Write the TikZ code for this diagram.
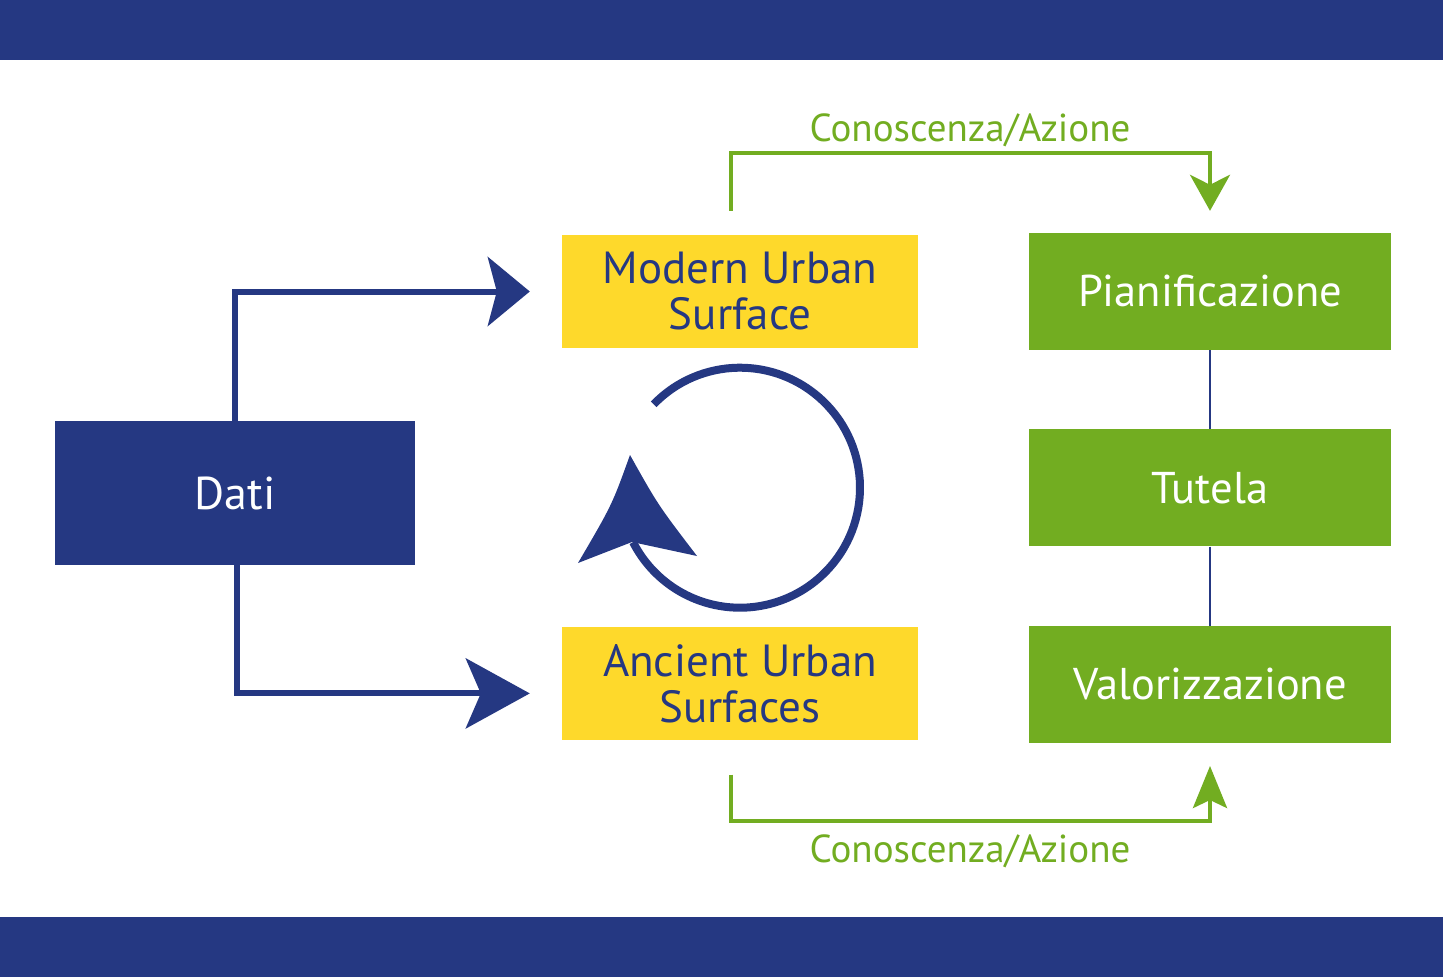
\documentclass[tikz,border=0pt]{standalone}
\usepackage{fontspec}
\setmainfont{PT Sans}
\usepackage{tikz}
\usetikzlibrary{arrows.meta,positioning,calc}
\definecolor{navyband}{HTML}{253882}
\definecolor{sunyellow}{HTML}{FED92B}
\definecolor{leafgreen}{HTML}{72AD21}

\begin{document}
\begin{tikzpicture}[
  x=1pt, y=-1pt,
  >=Stealth,
  navybox/.style={
    fill=navyband,
    inner sep=0pt,
    minimum width=360pt,
    minimum height=144pt,
    text=white,
    font=\fontsize{46}{48}\selectfont
  },
  yellowbox/.style={
    fill=sunyellow,
    inner sep=0pt,
    minimum width=356pt,
    minimum height=113pt,
    align=center,
    text=navyband,
    font=\fontsize{45}{46}\selectfont
  },
  greenbox/.style={
    fill=leafgreen,
    inner sep=0pt,
    minimum width=362pt,
    minimum height=117pt,
    text=white,
    font=\fontsize{44.5}{46}\selectfont
  },
  bluearrow/.style={
    line width=6pt,
    draw=navyband
  },
  greenarrow/.style={
    line width=4pt,
    draw=leafgreen
  },
  linkline/.style={
    line width=2.5pt,
    draw=navyband
  },
  flowlabel/.style={
    text=leafgreen,
    inner sep=0pt,
    font=\fontsize{39}{40}\selectfont
  }
]

  \useasboundingbox (0,0) rectangle (1443,977);
  \fill[white] (0,0) rectangle (1443,977);

  % Top and bottom bands
  \fill[navyband] (0,0) rectangle (1443,60);
  \fill[navyband] (0,917) rectangle (1443,977);

  % --- LEFT: data source ---
  \node[navybox] (dati) at (235,493) {Dati};

  % --- MIDDLE: urban surfaces ---
  \node[yellowbox] (modern) at (740,291.5) {Modern Urban\\Surface};
  \node[yellowbox, below=279pt of modern] (ancient) {Ancient Urban\\Surfaces};

  % --- RIGHT: actions ---
  \node[greenbox] (pian) at (1210,291.5) {Pianificazione};
  \node[greenbox, below=79pt of pian] (tutela) {Tutela};
  \node[greenbox, below=79pt of tutela] (valor) {Valorizzazione};

  % Labels on the green loops
  \coordinate (upbar) at (970,153);
  \coordinate (downbar) at (970,821);
  \node[flowlabel] (lblup) at (970,130) {Conoscenza/Azione};
  \node[flowlabel] (lbldown) at (970,851) {Conoscenza/Azione};

  % Connecting arrows from Dati
  \draw[bluearrow, -{Stealth[length=42pt,width=69pt,inset=9pt]}, shorten >=32pt]
    (dati.north) |- (modern.west);
  \draw[bluearrow, -{Stealth[length=64pt,width=70pt,inset=15pt]}, shorten >=32pt]
    ([xshift=2pt]dati.south) |- ([yshift=-9.5pt]ancient.west);

  % Green knowledge/action loops
  \draw[greenarrow, -{Stealth[length=36pt,width=40pt,inset=10pt]}]
    ([xshift=-9pt,yshift=24pt]modern.north) |- (upbar) -| ([yshift=22pt]pian.north);
  \draw[greenarrow, -{Stealth[length=42pt,width=34pt,inset=8pt]}]
    ([xshift=-9pt,yshift=-34pt]ancient.south) |- (downbar) -| ([yshift=-23pt]valor.south);

  % Links between the green boxes
  \draw[linkline] (pian) -- (tutela);
  \draw[linkline] (tutela) -- (valor);

  % Cycle between modern and ancient surfaces
  \coordinate (cyc) at ($(modern.south)!0.5!(ancient.north)$);
  \draw[navyband, line width=8pt] (cyc) ++(224:120) arc[start angle=224, end angle=513, radius=120];
  \fill[navyband] (630,455) .. controls (612,505) .. (578,563) -- (632,542)
    -- (697,556) .. controls (658,505) .. (630,455) -- cycle;

\end{tikzpicture}
\end{document}
